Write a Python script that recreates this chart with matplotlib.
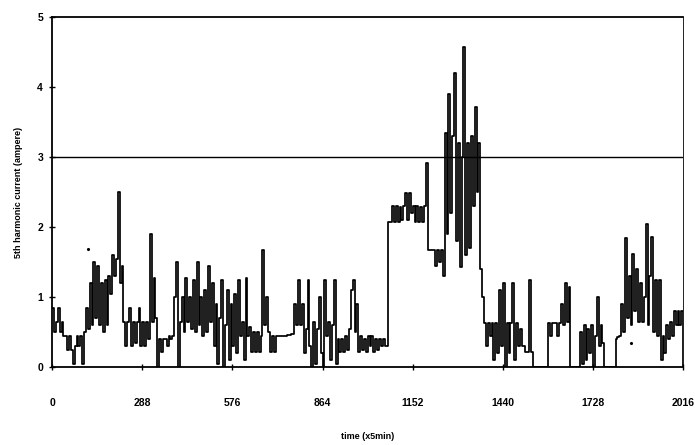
#!/usr/bin/env python3

import numpy as np
import matplotlib
matplotlib.use("Agg")
import matplotlib.pyplot as plt

plt.rcParams['font.family'] = ['Liberation Sans', 'DejaVu Sans']

# 5th harmonic current, one value per 30 min (6 samples of 5 min), one row per day
day1 = [0.85, 0.5, 0.65, 0.85, 0.5, 0.65, 0.45, 0.45, 0.25, 0.45, 0.25, 0.05,
        0.3, 0.45, 0.3, 0.45, 0.05, 0.5, 0.85, 0.55, 1.2, 0.6, 1.5, 0.7,
        1.45, 0.6, 1.2, 0.5, 1.25, 0.6, 1.3, 1.05, 1.6, 1.3, 1.55, 2.5,
        1.2, 1.45, 0.65, 0.3, 0.65, 0.85, 0.3, 0.65, 0.35, 0.65, 0.85, 0.3]
day2 = [0.65, 0.3, 0.65, 0.4, 1.9, 0.65, 1.27, 0.7, 0.0, 0.4, 0.22, 0.4,
        0.4, 0.3, 0.45, 0.4, 0.45, 1.0, 1.5, 0.0, 0.65, 1.0, 0.5, 1.27,
        0.65, 1.0, 0.55, 1.25, 0.5, 1.5, 0.6, 1.0, 0.45, 1.1, 0.5, 1.45,
        0.65, 1.2, 0.3, 0.9, 0.05, 0.7, 1.25, 0.0, 0.6, 1.1, 0.1, 0.9]
day3 = [0.3, 1.05, 0.2, 1.24, 0.45, 0.65, 0.1, 1.27, 0.45, 0.57, 0.22, 0.5,
        0.22, 0.5, 0.22, 0.45, 1.67, 0.6, 1.0, 0.5, 0.22, 0.45, 0.22, 0.45,
        0.44, 0.44, 0.44, 0.45, 0.45, 0.46, 0.46, 0.47, 0.47, 0.9, 0.6, 1.24,
        0.6, 0.9, 0.2, 0.55, 1.24, 0.3, 0.0, 0.65, 0.05, 0.55, 1.0, 0.2]
day4 = [0.0, 1.24, 0.45, 0.65, 0.1, 0.6, 1.24, 0.05, 0.4, 0.22, 0.4, 0.22,
        0.45, 0.25, 0.55, 1.1, 1.24, 0.5, 0.9, 0.22, 0.45, 0.25, 0.4, 0.22,
        0.45, 0.3, 0.45, 0.22, 0.4, 0.25, 0.4, 0.3, 0.4, 0.3, 0.3, 2.07,
        2.07, 2.3, 2.07, 2.3, 2.07, 2.28, 2.1, 2.3, 2.48, 2.1, 2.48, 2.2]
day5 = [2.3, 2.07, 2.3, 2.07, 2.28, 2.07, 2.3, 2.91, 1.67, 1.67, 1.67, 1.67,
        1.45, 1.67, 1.5, 1.67, 1.3, 3.34, 1.9, 3.9, 2.2, 3.3, 4.2, 1.8,
        3.2, 1.43, 3.0, 4.57, 1.6, 3.2, 1.7, 3.3, 2.3, 3.71, 2.5, 3.2,
        1.4, 1.0, 0.63, 0.3, 0.63, 0.45, 0.63, 0.1, 0.63, 0.2, 1.1, 0.3]
day6 = [1.2, 0.0, 0.63, 0.2, 0.63, 1.2, 0.1, 0.63, 0.3, 0.55, 0.3, 0.3,
        0.22, 0.22, 1.24, 0.22, 0.0, 0.0, 0.0, 0.0, 0.0, 0.0, 0.0, 0.0,
        0.63, 0.45, 0.63, 0.63, 0.63, 0.45, 0.63, 0.9, 0.6, 1.2, 0.65, 1.15,
        0.0, 0.0, 0.0, 0.0, 0.0, 0.5, 0.05, 0.6, 0.1, 0.55, 0.2, 0.6]
day7 = [0.0, 0.45, 1.0, 0.3, 0.6, 0.35, 0.0, 0.0, 0.0, 0.0, 0.0, 0.0,
        0.4, 0.43, 0.45, 0.9, 0.5, 1.84, 0.7, 1.3, 0.6, 1.62, 0.8, 1.4,
        0.65, 1.2, 0.65, 1.0, 2.05, 0.6, 1.3, 1.86, 0.5, 1.25, 0.45, 1.24,
        0.1, 0.45, 0.2, 0.6, 0.4, 0.65, 0.45, 0.8, 0.6, 0.8, 0.6, 0.8]

# stray single readings
dot_t = [115, 1849]
dot_v = [1.68, 0.34]

limit = 3.0
xticks = [0, 288, 576, 864, 1152, 1440, 1728, 2016]
yticks = [0, 1, 2, 3, 4, 5]

current = np.array(day1 + day2 + day3 + day4 + day5 + day6 + day7 + [0.0])
t = np.arange(len(current)) * 6

fig = plt.figure(figsize=(6.95, 4.45), dpi=100)
ax = fig.add_axes([0.075, 0.175, 0.908, 0.787])

ax.step(t, current, where='post', color='black', lw=1.25)
ax.plot(dot_t, dot_v, 'k.', ms=2.5)
ax.axhline(limit, color='black', lw=1.0)

ax.set_xlim(0, 2016)
ax.set_ylim(0, 5)
ax.set_xticks(xticks)
ax.set_yticks(yticks)
ax.tick_params(direction='inout', length=5, width=1.0, labelsize=7.5)
ax.tick_params(axis='x', pad=20)
ax.tick_params(axis='y', pad=4)
for lab in ax.get_xticklabels() + ax.get_yticklabels():
    lab.set_fontweight('bold')

for side in ['left', 'bottom', 'top']:
    ax.spines[side].set_linewidth(1.3)
ax.spines['right'].set_linewidth(0.6)

ax.set_xlabel("time (x5min)", fontsize=6.5, fontweight='bold', labelpad=17)
ax.set_ylabel("5th harmonic current (ampere)", fontsize=6.5, fontweight='bold', labelpad=10)

fig.savefig("out.png", dpi=100)
